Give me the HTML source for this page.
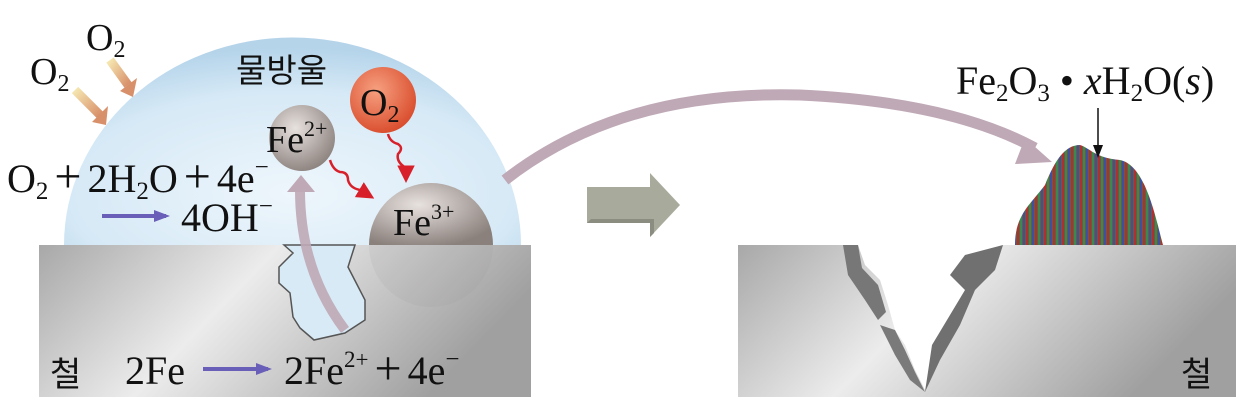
<!DOCTYPE html>
<html><head><meta charset="utf-8"><style>
html,body{margin:0;padding:0;background:#fff;}
svg{display:block;}
text{font-family:"Liberation Serif","Noto Serif CJK SC",serif;fill:#111;}
.k{font-family:"Liberation Sans","Noto Sans CJK KR",sans-serif;}
</style></head><body>
<svg width="1240" height="402" viewBox="0 0 1240 402">
<defs>
<radialGradient id="drop" cx="0.5" cy="0.75" r="0.7">
<stop offset="0" stop-color="#eef6fc"/><stop offset="0.7" stop-color="#d6e9f6"/><stop offset="1" stop-color="#b5d4ea"/></radialGradient>
<linearGradient id="metal" x1="0" y1="0" x2="1" y2="0.3">
<stop offset="0" stop-color="#a8a8a8"/><stop offset="0.45" stop-color="#ececec"/><stop offset="1" stop-color="#a0a0a0"/></linearGradient>
<radialGradient id="ball" cx="0.4" cy="0.35" r="0.7"><stop offset="0" stop-color="#e8e2df"/><stop offset="1" stop-color="#8a807c"/></radialGradient>
<radialGradient id="oball" cx="0.4" cy="0.35" r="0.7"><stop offset="0" stop-color="#f6a080"/><stop offset="1" stop-color="#d84a2a"/></radialGradient>
<linearGradient id="oarrow" x1="0" y1="0" x2="1" y2="1"><stop offset="0" stop-color="#f5e6b0"/><stop offset="1" stop-color="#d8906a"/></linearGradient>
<pattern id="rust" width="9" height="9" patternUnits="userSpaceOnUse">
<rect width="9" height="9" fill="#6a5a40"/><rect x="0" width="2" height="9" fill="#b03030"/><rect x="3" width="2" height="9" fill="#3a8a50"/><rect x="6" width="2" height="9" fill="#4050a0"/></pattern>
<marker id="pa" markerWidth="16" markerHeight="12" refX="12" refY="6" orient="auto" markerUnits="userSpaceOnUse"><path d="M0,0 L16,6 L0,12 Z" fill="#6a5fb8"/></marker>
<marker id="ra" markerWidth="7" markerHeight="7" refX="5" refY="3.5" orient="auto"><path d="M0,0 L7,3.5 L0,7 Z" fill="#d8202a"/></marker>
</defs>
<!-- left -->
<path d="M64,245 A228,207 0 0 1 521,245 Z" fill="url(#drop)"/>
<rect x="39" y="245" width="492" height="152" fill="url(#metal)"/>
<circle cx="431" cy="245" r="62" fill="#9a9290" opacity="0.12"/>
<path d="M369,245 A62,62 0 0 1 493,245 Z" fill="url(#ball)"/>
<path d="M284,245 L293,253 L279,267 L279,283 L290,293 L293,317 L300,328 L314,340 L345,333 L365,320 L365,300 L348,267 L355,245 Z" fill="#d8eaf6" stroke="#555" stroke-width="1.5"/>
<path d="M345,330 Q300,270 300,190" stroke="#bfa9b6" stroke-width="10" fill="none" opacity="0.9"/>
<path d="M287,192 L301,175 L315,192 Z" fill="#bfa9b6"/>
<path d="M75,90 L100,115" stroke="url(#oarrow)" stroke-width="9"/><path d="M92,122 L108,106 L106,125 Z" fill="#d8906a"/>
<path d="M110,60 L128,85" stroke="url(#oarrow)" stroke-width="9"/><path d="M120,91 L137,78 L133,97 Z" fill="#d8906a"/>
<circle cx="302" cy="138" r="33" fill="url(#ball)"/>
<circle cx="383" cy="100" r="33" fill="url(#oball)"/>
<path d="M330,160 q3,10 10,12 q8,0 8,8 q2,8 12,10 l10,6" stroke="#d8202a" stroke-width="2.5" fill="none" marker-end="url(#ra)"/>
<path d="M388,134 q2,8 10,10 q6,4 0,10 q-2,8 8,14 l0,10" stroke="#d8202a" stroke-width="2.5" fill="none" marker-end="url(#ra)"/>
<line x1="102" y1="216" x2="166" y2="216" stroke="#6a5fb8" stroke-width="4" marker-end="url(#pa)"/>
<line x1="203" y1="369" x2="268" y2="369" stroke="#6a5fb8" stroke-width="4" marker-end="url(#pa)"/>
<text x="30" y="84" font-size="38">O<tspan font-size="24" dy="7">2</tspan></text>
<text x="86" y="50" font-size="38">O<tspan font-size="24" dy="7">2</tspan></text>
<text class="k" x="236" y="82" font-size="33">물방울</text>
<text x="360" y="115" font-size="38">O<tspan font-size="24" dy="7">2</tspan></text>
<text x="266" y="152" font-size="38">Fe<tspan font-size="22" dy="-16">2+</tspan></text>
<text x="393" y="235" font-size="38">Fe<tspan font-size="22" dy="-16">3+</tspan></text>
<text x="7" y="192" font-size="40">O<tspan font-size="25" dy="7">2</tspan><tspan dy="-7" dx="6" font-size="48">+</tspan><tspan dx="6">2H</tspan><tspan font-size="25" dy="7">2</tspan><tspan dy="-7">O</tspan><tspan dx="6" font-size="48">+</tspan><tspan dx="6">4e</tspan><tspan font-size="25" dy="-17">−</tspan></text>
<text x="181" y="231" font-size="40">4OH<tspan font-size="25" dy="-17">−</tspan></text>
<text class="k" x="50" y="386" font-size="34">철</text>
<text x="125" y="384" font-size="40">2Fe</text>
<text x="284" y="384" font-size="40">2Fe<tspan font-size="23" dy="-17">2+</tspan><tspan dy="17" dx="6" font-size="48">+</tspan><tspan dx="6">4e</tspan><tspan font-size="25" dy="-17">−</tspan></text>
<!-- middle arrow -->
<path d="M587,187 L650,187 L650,173 L680,205 L650,237 L650,223 L587,223 Z" fill="#a8ab9c"/>
<path d="M587,223 L650,223 L650,237 L654,233 L654,219 L591,219 Z" fill="#8a8d80"/>
<!-- curved arrow -->
<path d="M505,180 Q620,90 800,95 Q950,102 1035,148" stroke="#bfa9b6" stroke-width="11" fill="none"/>
<path d="M1025,138 L1052,162 L1015,164 Z" fill="#bfa9b6"/>
<!-- right -->
<rect x="738" y="245" width="498" height="152" fill="url(#metal)"/>
<path d="M843,245 L858,245 L865,265 L880,280 L888,305 L895,330 L905,345 L915,370 L925,390 L935,340 L955,310 L970,285 L980,260 L1003,245 Z" fill="#fff"/>
<path d="M843,245 L858,245 L862,268 L878,285 L886,312 L878,320 L865,300 L848,275 Z" fill="#777"/>
<path d="M880,325 L895,330 L905,350 L915,372 L925,392 L910,380 L895,355 Z" fill="#7a7a7a"/>
<path d="M1003,245 L995,270 L975,290 L960,325 L940,360 L925,392 L932,345 L950,315 L965,290 L950,275 L965,255 Z" fill="#707070"/>
<path d="M1015,245 C1015,215 1030,205 1045,185 C1055,160 1065,145 1080,145 C1090,148 1095,158 1120,160 C1145,165 1155,215 1163,245 Z" fill="url(#rust)"/>
<line x1="1098" y1="108" x2="1098" y2="150" stroke="#111" stroke-width="1.5"/>
<path d="M1093,145 L1098,158 L1103,145 Z" fill="#111"/>
<text x="956" y="94" font-size="40">Fe<tspan font-size="25" dy="7">2</tspan><tspan dy="-7">O</tspan><tspan font-size="25" dy="7">3</tspan><tspan dy="-7"> • </tspan><tspan font-style="italic">x</tspan><tspan>H</tspan><tspan font-size="25" dy="7">2</tspan><tspan dy="-7">O(</tspan><tspan font-style="italic">s</tspan><tspan>)</tspan></text>
<text class="k" x="1181" y="386" font-size="34" fill="#333">철</text>
</svg>
</body></html>
